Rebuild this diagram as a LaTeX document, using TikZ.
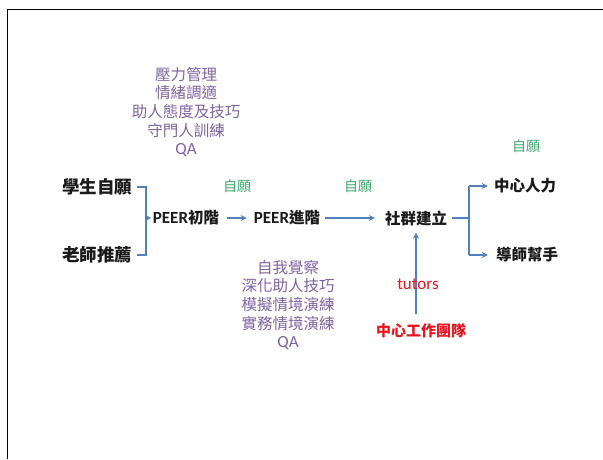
\documentclass[tikz,border=0pt]{standalone}
\usepackage{fontspec}
\setmainfont{Noto Sans CJK TC}
\newfontfamily\latinf{Carlito}
\usetikzlibrary{arrows.meta}
\definecolor{lineblue}{HTML}{4F81BD}
\definecolor{txtpurple}{HTML}{8064A2}
\definecolor{txtgreen}{HTML}{3DAA6E}
\definecolor{txtred}{HTML}{E8141E}
\definecolor{txtblack}{HTML}{1A1A1A}
\tikzset{
  lbl/.style={inner sep=0pt, text=txtblack, font=\fontsize{15.5}{18}\selectfont\bfseries},
  biglbl/.style={inner sep=0pt, text=txtblack, font=\fontsize{17.5}{20}\selectfont\bfseries},
  purp/.style={inner sep=0pt, text=txtpurple, align=center, font=\fontsize{15.5}{18.6}\selectfont},
  grn/.style={inner sep=0pt, text=txtgreen, font=\fontsize{14}{16}\selectfont},
  redt/.style={inner sep=0pt, text=txtred, font=\fontsize{15}{18}\selectfont},
  conn/.style={draw=lineblue, line width=1.6pt},
  arr/.style={conn, -{Stealth[length=6pt,width=6pt]}},
}
\begin{document}
\begin{tikzpicture}[x=1pt,y=-1pt]
\useasboundingbox (0,0) rectangle (603,459);
\fill[white] (0,0) rectangle (603,459);
% frame
\draw[black, line width=0.9pt] (7,459) -- (7,9) -- (603,9);

% purple lists
\node[purp] (list1) at (186,112) {壓力管理\\情緒調適\\助人態度及技巧\\守門人訓練\\{\latinf\fontsize{17}{18.6}\selectfont QA}};
\node[purp] (list2) at (288,305) {自我覺察\\深化助人技巧\\模擬情境演練\\實務情境演練\\{\latinf\fontsize{17}{18.6}\selectfont QA}};

% main labels
\node[biglbl] (stu) at (97,187) {學生自願};
\node[biglbl] (tea) at (97,255) {老師推薦};
\node[lbl] (p1) at (186,218) {{\latinf\fontsize{17}{18}\selectfont PEER}初階};
\node[lbl] (p2) at (287,218) {{\latinf\fontsize{17}{18}\selectfont PEER}進階};
\node[lbl] (soc) at (416,218) {社群建立};
\node[lbl] (hr) at (525,186) {中心人力};
\node[lbl] (help) at (527,255) {導師幫手};
\node[redt, font=\fontsize{15}{18}\selectfont\bfseries] (team) at (421,331) {中心工作團隊};

% green labels
\node[grn] (g1) at (237,186) {自願};
\node[grn] (g2) at (358,186) {自願};
\node[grn] (g3) at (526,146) {自願};

% bracket
\draw[conn] ([xshift=5pt]stu.east) -- ([xshift=14pt]stu.east) |- ([xshift=5pt]tea.east);
\draw[conn, -{Stealth[length=4pt,width=5pt]}] ([xshift=14pt]stu.east |- p1.west) -- ([xshift=-2pt]p1.west);

% arrows
\draw[arr] ([xshift=8pt]p1.east) -- ([xshift=-7pt]p2.west);
\draw[arr] ([xshift=5pt]p2.east) -- ([xshift=-10pt]soc.west);
\draw[arr] ([yshift=10pt]team.north -| soc.south) -- ([yshift=-7pt]soc.south);
\node[redt, font=\latinf\fontsize{17}{18}\selectfont] (tut) at (418,284) {tutors};

% split
\coordinate (split) at ([xshift=22pt]soc.east);
\draw[conn] ([xshift=5pt]soc.east) -- (split);
\draw[arr] (split |- hr.west) -- ([xshift=-6pt]hr.west) ;
\draw[conn] (split |- hr.west) -- (split |- help.west);
\draw[arr] (split |- help.west) -- ([xshift=-8pt]help.west);
\end{tikzpicture}
\end{document}
